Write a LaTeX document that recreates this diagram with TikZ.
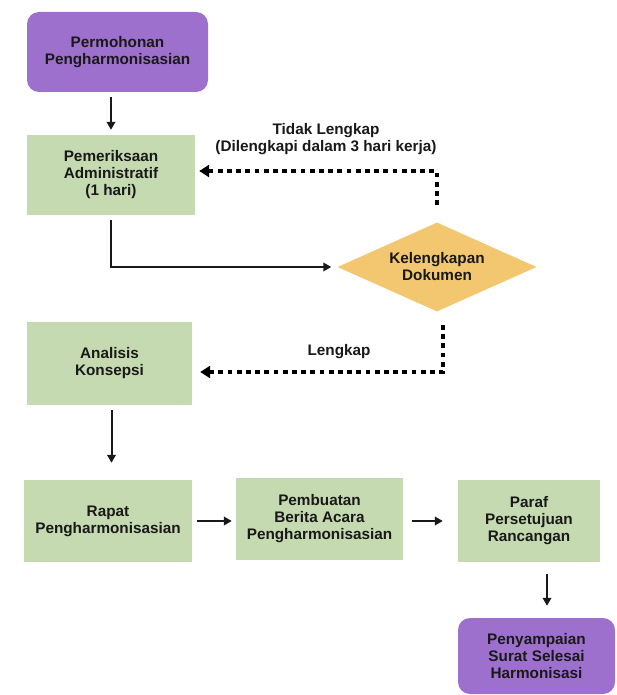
\documentclass[tikz,border=0pt]{standalone}
\usepackage{fontspec}
\setmainfont{Liberation Sans}
\usetikzlibrary{arrows.meta,shapes.geometric,calc}
\definecolor{purp}{RGB}{158,112,206}
\definecolor{grn}{RGB}{197,218,176}
\definecolor{yel}{RGB}{243,199,112}
\definecolor{txt}{RGB}{25,25,25}
\begin{document}
\begin{tikzpicture}[x=1pt,y=-1pt,
  every node/.style={font=\bfseries\fontsize{15.3}{17}\selectfont, text=txt, align=center, inner sep=0pt},
  pbox/.style={rectangle, rounded corners=12pt, fill=purp, minimum width=#1},
  gbox/.style={rectangle, fill=grn, minimum width=#1},
  dia/.style={diamond, fill=yel, aspect=2.24, minimum width=199pt, minimum height=89pt},
  arr/.style={line width=2pt, draw=txt, -{Triangle[length=8pt,width=8.5pt]}},
  dotarr/.style={line width=4.5pt, dash pattern=on 4.8pt off 4.4pt, -{Triangle[length=10pt,width=12pt]}}
]
\useasboundingbox (0,0) rectangle (617,695);
\node[pbox=181pt, minimum height=80pt] (perm) at (117.5,52) {Permohonan\\Pengharmonisasian};
\node[gbox=168pt, minimum height=80pt] (pem) at (111,175) {Pemeriksaan\\Administratif\\(1 hari)};
\node[dia] (dok) at (437,267) {Kelengkapan\\Dokumen};
\node[gbox=165pt, minimum height=83pt] (ana) at (109.5,363.5) {Analisis\\Konsepsi};
\node[gbox=168pt, minimum height=82pt] (rap) at (108,521) {Rapat\\Pengharmonisasian};
\node[gbox=167pt, minimum height=82pt] (pbu) at (319.5,519) {Pembuatan\\Berita Acara\\Pengharmonisasian};
\node[gbox=142pt, minimum height=82pt] (par) at (529,521) {Paraf\\Persetujuan\\Rancangan};
\node[pbox=157pt, minimum height=76pt] (pen) at (536.5,656) {Penyampaian\\Surat Selesai\\Harmonisasi};

\node (lbl1) at (326,139.5) {Tidak Lengkap\\(Dilengkapi dalam 3 hari kerja)};
\node (lbl2) at (339,352) {Lengkap};

\coordinate (t1) at (437,205);
\coordinate (t2) at (443,325);
\coordinate (a5) at (547,574);

\draw[arr, shorten <=5pt, shorten >=5pt] (perm.south -| pem.north) -- (pem.north);
\draw[arr, shorten <=5pt, shorten >=6pt] (pem.south) |- (dok.west);
\draw[dotarr, shorten >=4pt] (t1) |- ([yshift=4pt]pem.east);
\draw[dotarr, shorten >=8pt] (t2) |- ([yshift=-8.5pt]ana.east);
\draw[arr, shorten <=5pt, shorten >=17pt] ([xshift=2pt]ana.south) -- ([xshift=2pt]ana.south |- rap.north);
\draw[arr, shorten <=5pt, shorten >=4pt] (rap.east) -- (rap.east -| pbu.west);
\draw[arr, shorten <=9pt, shorten >=15pt] (pbu.east |- rap.east) -- (par.west);
\draw[arr, shorten >=12pt] (a5) -- (a5 |- pen.north);
\end{tikzpicture}
\end{document}
